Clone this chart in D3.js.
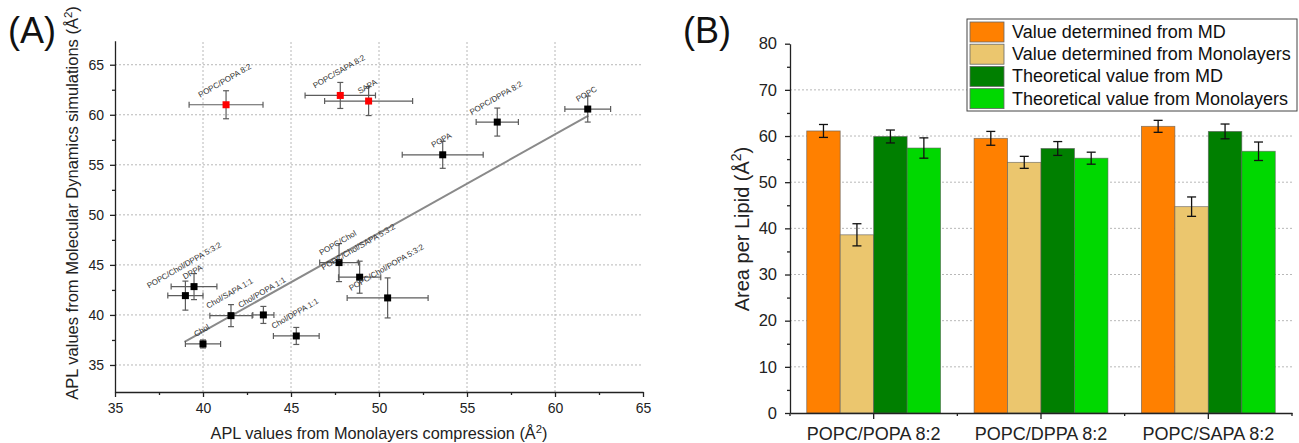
<!DOCTYPE html>
<html>
<head>
<meta charset="utf-8">
<script src="https://cdn.jsdelivr.net/npm/d3@7"></script>
<style>
  body { margin: 0; background: #fff; }
  svg { font-family: "Liberation Sans", Arial, sans-serif; }
</style>
</head>
<body>
<svg id="chart" width="1299" height="443"></svg>
<script>
// ---- panel A data
const lipidNames = ["POPC", "POPC/DPPA 8:2", "POPA", "POPC/POPA 8:2", "POPC/SAPA 8:2", "SAPA",
  "POPC/Chol", "POPC/Chol/SAPA 5:3:2", "POPC/Chol/POPA 5:3:2", "POPC/Chol/DPPA 5:3:2", "DPPA",
  "Chol/SAPA 1:1", "Chol/POPA 1:1", "Chol/DPPA 1:1", "Chol"];
const aplMono    = [61.86, 56.72, 53.62, 41.31, 47.8, 49.41, 47.73, 48.9, 50.49, 39.0, 39.49, 41.59, 43.43, 45.3, 40.0];
const aplMonoErr = [1.3, 1.2, 2.3, 2.1, 2.0, 2.5, 1.1, 1.2, 2.3, 1.0, 1.3, 1.2, 0.6, 1.3, 1.0];
const aplMD      = [60.57, 59.27, 56.0, 61.0, 61.93, 61.37, 45.23, 43.77, 41.7, 41.93, 42.83, 39.93, 40.0, 37.9, 37.1];
const aplMDErr   = [1.3, 1.4, 1.35, 1.4, 1.3, 1.45, 1.9, 1.6, 2.0, 1.45, 1.3, 1.1, 0.85, 0.85, 0.4];
const outlier    = [0, 0, 0, 1, 1, 1, 0, 0, 0, 0, 0, 0, 0, 0, 0];
const fitSlope = 0.985, fitIntercept = -1.06, fitFrom = 38.95, fitTo = 61.9;
const aXTicks = [35, 40, 45, 50, 55, 60, 65];
const aYTicks = [35, 40, 45, 50, 55, 60, 65];

// ---- panel B data
const groups = ["POPC/POPA 8:2", "POPC/DPPA 8:2", "POPC/SAPA 8:2"];
const seriesNames = ["Value determined from MD", "Value determined from Monolayers",
  "Theoretical value from MD", "Theoretical value from Monolayers"];
const seriesColors = ["#ff8000", "#ebc66e", "#007f00", "#00d800"];
const mdVal = [61.1, 59.5, 62.1], mdErr = [1.4, 1.5, 1.3];
const monoVal = [38.6, 54.3, 44.7], monoErr = [2.4, 1.3, 2.1];
const theoMdVal = [59.9, 57.3, 61.0], theoMdErr = [1.4, 1.5, 1.6];
const theoMonoVal = [57.4, 55.2, 56.7], theoMonoErr = [2.2, 1.3, 2.0];
const bYTicks = [0, 10, 20, 30, 40, 50, 60, 70, 80];

const svg = d3.select("#chart");

function supTitle(sel, before) {
  // "... (Å²)" with a real superscript
  sel.append("tspan").text(before + " (Å");
  sel.append("tspan").attr("baseline-shift", "super").attr("font-size", "70%").text("2");
  sel.append("tspan").text(")");
}

// =================== panel A
const xA = d3.scaleLinear().domain([35, 65]).range([115, 643]);
const yA = d3.scaleLinear().domain([32.3, 67.4]).range([392, 40.7]);
const gA = svg.append("g");

// grid
gA.selectAll(".vgrid").data(aXTicks.filter(d => d > 35 && d < 65)).enter().append("line")
  .attr("x1", d => xA(d)).attr("x2", d => xA(d))
  .attr("y1", yA.range()[0]).attr("y2", yA.range()[1])
  .attr("stroke", "#b8b8b8").attr("stroke-dasharray", "2,2");
gA.selectAll(".hgrid").data(aYTicks).enter().append("line")
  .attr("x1", xA.range()[0]).attr("x2", xA.range()[1])
  .attr("y1", d => yA(d)).attr("y2", d => yA(d))
  .attr("stroke", "#b8b8b8").attr("stroke-dasharray", "2,2");

// axes
const axA_x = gA.append("g").attr("transform", "translate(0," + yA.range()[0] + ")")
  .call(d3.axisBottom(xA).tickValues(aXTicks).tickSize(5).tickSizeOuter(0).tickPadding(6));
axA_x.append("g").call(d3.axisBottom(xA).tickValues(d3.range(37.5, 65, 5)).tickSize(3).tickFormat(""))
  .select(".domain").remove();
const axA_y = gA.append("g").attr("transform", "translate(" + xA.range()[0] + ",0)")
  .call(d3.axisLeft(yA).tickValues(aYTicks).tickSize(5).tickSizeOuter(0).tickPadding(6));
axA_y.append("g").call(d3.axisLeft(yA).tickValues(d3.range(37.5, 67, 5)).tickSize(3).tickFormat(""))
  .select(".domain").remove();
gA.selectAll(".tick text").attr("font-size", 14).attr("fill", "#222");
gA.selectAll(".domain, .tick line").attr("stroke", "#222").attr("stroke-width", 1.3);

gA.append("text").attr("x", 379).attr("y", 439).attr("text-anchor", "middle")
  .attr("font-size", 16.3).attr("fill", "#222").call(supTitle, "APL values from Monolayers compression");
gA.append("text").attr("transform", "translate(78,203) rotate(-90)").attr("text-anchor", "middle")
  .attr("font-size", 16.5).attr("fill", "#222").call(supTitle, "APL values from Molecular Dynamics simulations");

// fit line
gA.append("line")
  .attr("x1", xA(fitFrom)).attr("y1", yA(fitSlope * fitFrom + fitIntercept))
  .attr("x2", xA(fitTo)).attr("y2", yA(fitSlope * fitTo + fitIntercept))
  .attr("stroke", "#8a8a8a").attr("stroke-width", 2);

const pts = lipidNames.map((n, i) => ({name: n, x: aplMono[i], xe: aplMonoErr[i], y: aplMD[i], ye: aplMDErr[i], red: outlier[i]}));
const pt = gA.selectAll(".pt").data(pts).enter().append("g");
const ebCol = "#5c5c5c", cap = 3;
pt.append("line").attr("x1", d => xA(d.x - d.xe)).attr("x2", d => xA(d.x + d.xe))
  .attr("y1", d => yA(d.y)).attr("y2", d => yA(d.y)).attr("stroke", ebCol).attr("stroke-width", 1.2);
pt.append("line").attr("x1", d => xA(d.x - d.xe)).attr("x2", d => xA(d.x - d.xe))
  .attr("y1", d => yA(d.y) - cap).attr("y2", d => yA(d.y) + cap).attr("stroke", ebCol).attr("stroke-width", 1.2);
pt.append("line").attr("x1", d => xA(d.x + d.xe)).attr("x2", d => xA(d.x + d.xe))
  .attr("y1", d => yA(d.y) - cap).attr("y2", d => yA(d.y) + cap).attr("stroke", ebCol).attr("stroke-width", 1.2);
pt.append("line").attr("x1", d => xA(d.x)).attr("x2", d => xA(d.x))
  .attr("y1", d => yA(d.y - d.ye)).attr("y2", d => yA(d.y + d.ye)).attr("stroke", ebCol).attr("stroke-width", 1.2);
pt.append("line").attr("x1", d => xA(d.x) - cap).attr("x2", d => xA(d.x) + cap)
  .attr("y1", d => yA(d.y - d.ye)).attr("y2", d => yA(d.y - d.ye)).attr("stroke", ebCol).attr("stroke-width", 1.2);
pt.append("line").attr("x1", d => xA(d.x) - cap).attr("x2", d => xA(d.x) + cap)
  .attr("y1", d => yA(d.y + d.ye)).attr("y2", d => yA(d.y + d.ye)).attr("stroke", ebCol).attr("stroke-width", 1.2);
pt.append("rect").attr("x", d => xA(d.x) - 3.5).attr("y", d => yA(d.y) - 3.5)
  .attr("width", 7).attr("height", 7).attr("fill", d => d.red ? "#ff0000" : "#000");

// rotated point labels, lower end sits just above the point
pt.each(function(d) {
  const g = d3.select(this).append("g");
  const t = g.append("text").attr("text-anchor", "middle").attr("font-size", 8).attr("fill", "#333").text(d.name);
  const L = t.node().getComputedTextLength();
  g.attr("transform", "translate(" + xA(d.x) + "," + (yA(d.y) - 7 - L / 2 * Math.sin(Math.PI / 6)) + ") rotate(-30)");
});

svg.append("text").attr("x", 8).attr("y", 43).attr("font-size", 36).attr("fill", "#111").text("(A)");

// =================== panel B
const x0 = d3.scaleBand().domain(groups).range([790, 1292]);
const x1 = d3.scaleBand().domain(seriesNames).range([x0.bandwidth() * 0.1, x0.bandwidth() * 0.9]);
const yB = d3.scaleLinear().domain([0, 80]).range([413, 43.7]);
const gB = svg.append("g");

gB.selectAll(".hgrid").data(bYTicks.filter(d => d > 0 && d < 80)).enter().append("line")
  .attr("x1", 790).attr("x2", 1292).attr("y1", d => yB(d)).attr("y2", d => yB(d))
  .attr("stroke", "#b8b8b8").attr("stroke-dasharray", "2,2");

const vals = [mdVal, monoVal, theoMdVal, theoMonoVal];
const errs = [mdErr, monoErr, theoMdErr, theoMonoErr];
const barData = [];
groups.forEach((g, gi) => seriesNames.forEach((s, si) => {
  barData.push({g: g, s: s, v: vals[si][gi], e: errs[si][gi], c: seriesColors[si]});
}));

const bar = gB.selectAll(".bar").data(barData).enter().append("g")
  .attr("transform", d => "translate(" + (x0(d.g) + x1(d.s)) + ",0)");
bar.append("rect").attr("x", 0).attr("width", x1.bandwidth())
  .attr("y", d => yB(d.v)).attr("height", d => yB(0) - yB(d.v))
  .attr("fill", d => d.c).attr("stroke", "#5a5a5a").attr("stroke-opacity", 0.7).attr("stroke-width", 0.8);
const bw = x1.bandwidth() / 2;
bar.append("line").attr("x1", bw).attr("x2", bw).attr("y1", d => yB(d.v - d.e)).attr("y2", d => yB(d.v + d.e))
  .attr("stroke", "#111").attr("stroke-width", 1.3);
bar.append("line").attr("x1", bw - 4.5).attr("x2", bw + 4.5).attr("y1", d => yB(d.v - d.e)).attr("y2", d => yB(d.v - d.e))
  .attr("stroke", "#111").attr("stroke-width", 1.3);
bar.append("line").attr("x1", bw - 4.5).attr("x2", bw + 4.5).attr("y1", d => yB(d.v + d.e)).attr("y2", d => yB(d.v + d.e))
  .attr("stroke", "#111").attr("stroke-width", 1.3);

const axB_x = gB.append("g").attr("transform", "translate(0,413)")
  .call(d3.axisBottom(x0).tickSize(6).tickSizeOuter(0).tickPadding(8));
axB_x.selectAll(".tick text").attr("font-size", 18);
// minor ticks on the group edges
axB_x.selectAll(".edge").data(groups.map(g => x0(g)).concat([x0.range()[1]])).enter().append("line")
  .attr("x1", d => d).attr("x2", d => d).attr("y1", 0).attr("y2", 3);
const axB_y = gB.append("g").attr("transform", "translate(790,0)")
  .call(d3.axisLeft(yB).tickValues(bYTicks).tickSize(5).tickSizeOuter(0).tickPadding(8));
axB_y.selectAll(".tick text").attr("font-size", 16.5);
axB_y.append("g").call(d3.axisLeft(yB).tickValues(d3.range(5, 80, 10)).tickSize(3).tickFormat(""))
  .select(".domain").remove();
gB.selectAll(".tick text").attr("fill", "#222");
gB.selectAll(".domain, .tick line").attr("stroke", "#222").attr("stroke-width", 1.3);
axB_x.selectAll("line").attr("stroke", "#222").attr("stroke-width", 1.3);

gB.append("text").attr("transform", "translate(749,229) rotate(-90)").attr("text-anchor", "middle")
  .attr("font-size", 20).attr("fill", "#222").call(supTitle, "Area per Lipid");

// legend
const lg = svg.append("g").attr("transform", "translate(967,19)");
lg.append("rect").attr("width", 330).attr("height", 92).attr("fill", "#fff").attr("stroke", "#444").attr("stroke-width", 1);
const li = lg.selectAll(".li").data(seriesNames).enter().append("g")
  .attr("transform", (d, i) => "translate(3," + (3 + i * 22.2) + ")");
li.append("rect").attr("width", 34).attr("height", 20).attr("fill", (d, i) => seriesColors[i])
  .attr("stroke", "#666").attr("stroke-width", 0.8);
li.append("text").attr("x", 42).attr("y", 16).attr("font-size", 18).attr("fill", "#111").text(d => d);

svg.append("text").attr("x", 683).attr("y", 43).attr("font-size", 36).attr("fill", "#111").text("(B)");
</script>
</body>
</html>
